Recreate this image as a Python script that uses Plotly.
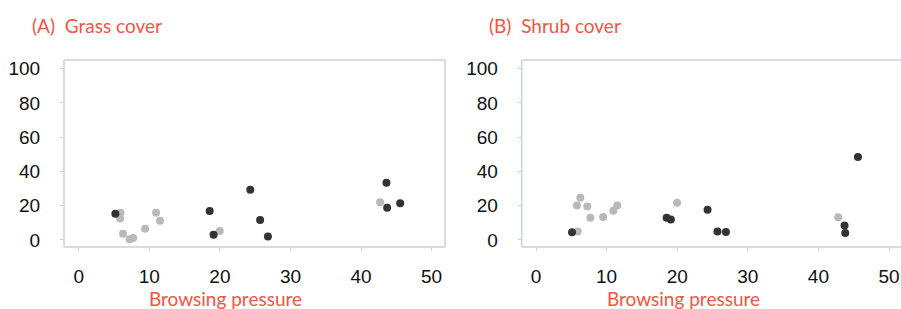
import plotly.graph_objects as go

# ---- data ----
grass_light_x = [5.9, 5.85, 6.27, 7.2, 7.7, 9.4, 10.95, 11.5, 19.97, 42.7]
grass_light_y = [15.9, 12.6, 3.7, 0.4, 1.2, 6.6, 15.9, 11.3, 5.2, 22.0]
grass_dark_x = [5.18, 18.55, 19.1, 24.3, 25.7, 26.8, 43.6, 43.7, 45.55]
grass_dark_y = [15.3, 16.9, 3.1, 29.3, 11.7, 2.1, 33.4, 18.8, 21.4]

shrub_light_x = [6.28, 5.8, 7.27, 7.7, 9.5, 10.95, 11.5, 5.9, 19.97, 42.8]
shrub_light_y = [24.7, 20.2, 19.6, 13.0, 13.4, 17.1, 20.2, 5.0, 21.8, 13.2]
shrub_dark_x = [5.1, 18.5, 19.1, 24.3, 25.7, 26.9, 45.6, 43.7, 43.8]
shrub_dark_y = [4.5, 13.0, 12.0, 17.7, 5.0, 4.7, 48.4, 8.5, 4.1]

panel_titles = ["(A)\u00a0 Grass cover", "(B)\u00a0 Shrub cover"]
x_title = "Browsing pressure"
x_ticks = [0, 10, 20, 30, 40, 50]
y_ticks = [0, 20, 40, 60, 80, 100]

W, H = 901, 309
RED = "#f2553f"
LIGHT = "#b9b9b9"
DARK = "#333333"
BORDER = "#c9d1d9"

fig = go.Figure()

def add_pts(x, y, color, xa, ya):
    fig.add_trace(go.Scatter(x=x, y=y, mode="markers", xaxis=xa, yaxis=ya,
                             marker=dict(size=8, color=color, line=dict(width=0)),
                             showlegend=False, hoverinfo="skip"))

add_pts(grass_light_x, grass_light_y, LIGHT, "x", "y")
add_pts(grass_dark_x, grass_dark_y, DARK, "x", "y")
add_pts(shrub_light_x, shrub_light_y, LIGHT, "x2", "y2")
add_pts(shrub_dark_x, shrub_dark_y, DARK, "x2", "y2")

ydom = [(H - 247) / H, (H - 60) / H]
dom1 = [64 / W, 445 / W]
dom2 = [521.7 / W, 1.0]

tickfont = dict(family="Liberation Sans, Arial", size=19, color="#111111")
xcommon = dict(tickmode="array", tickvals=x_ticks, ticks="outside", ticklen=3,
               tickcolor=BORDER, tickfont=tickfont, showgrid=False, zeroline=False,
               showline=False, ticklabelstandoff=9, fixedrange=True, automargin=False)
ycommon = dict(tickmode="array", tickvals=y_ticks, ticks="outside", ticklen=3,
               tickcolor=BORDER, tickfont=tickfont, showgrid=False, zeroline=False,
               showline=False, ticklabelstandoff=16, range=[-4.1, 105.1], fixedrange=True,
               automargin=False)

fig.update_layout(
    width=W, height=H,
    margin=dict(l=0, r=0, t=0, b=0, autoexpand=False),
    paper_bgcolor="white", plot_bgcolor="white",
    xaxis=dict(domain=dom1, anchor="y", range=[-2.1, 51.9], **xcommon),
    yaxis=dict(domain=ydom, anchor="x", **ycommon),
    xaxis2=dict(domain=dom2, anchor="y2", range=[-2.03, 51.7], **xcommon),
    yaxis2=dict(domain=ydom, anchor="x2", **ycommon),
)

# borders
for xr, yr, sides in [("x domain", "y domain", "ltrb"), ("x2 domain", "y2 domain", "ltb")]:
    if "l" in sides:
        fig.add_shape(type="line", xref=xr, yref=yr, x0=0, x1=0, y0=0, y1=1, line=dict(color=BORDER, width=1.5))
    if "r" in sides:
        fig.add_shape(type="line", xref=xr, yref=yr, x0=1, x1=1, y0=0, y1=1, line=dict(color=BORDER, width=1.5))
    fig.add_shape(type="line", xref=xr, yref=yr, x0=0, x1=1, y0=0, y1=0, line=dict(color=BORDER, width=1.5))
    fig.add_shape(type="line", xref=xr, yref=yr, x0=0, x1=1, y0=1, y1=1, line=dict(color=BORDER, width=1.5))

titlefont = dict(family="Lato, Open Sans", size=19, color=RED)
for xpix, t in zip([30, 486.7], panel_titles):
    fig.add_annotation(text=t, xref="paper", yref="paper", x=xpix / W, y=1 - 25 / H,
                       xanchor="left", yanchor="middle", showarrow=False, font=titlefont)
for xc in [225.5, 683.7]:
    fig.add_annotation(text=x_title, xref="paper", yref="paper", x=xc / W, y=1 - 298 / H,
                       xanchor="center", yanchor="middle", showarrow=False, font=titlefont)

fig.write_html("out.html", config={"displayModeBar": False},
               post_script="document.body.style.margin='0';document.body.style.overflow='hidden';")
